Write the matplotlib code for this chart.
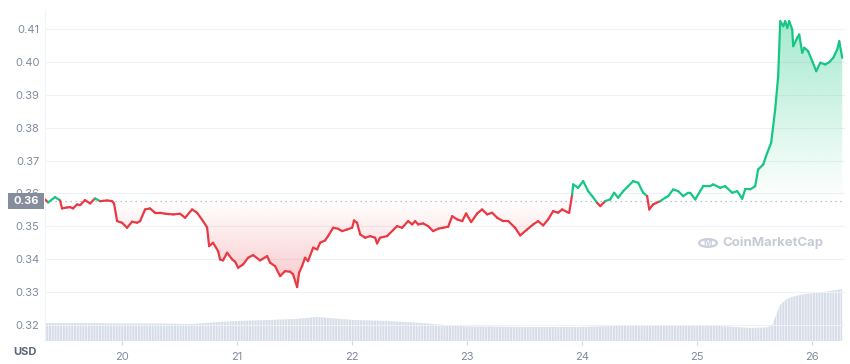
import numpy as np
import matplotlib
matplotlib.use("Agg")
import matplotlib.pyplot as plt
from matplotlib.collections import LineCollection
from matplotlib.path import Path
from matplotlib.patches import Rectangle, Circle
import matplotlib.transforms as mtransforms

plt.rcParams['font.family'] = ['Inter', 'DejaVu Sans']
plt.rcParams['hatch.linewidth'] = 0.6

# ---------------- data ----------------
days = [19.330, 19.357, 19.417, 19.461, 19.478, 19.522, 19.548, 19.574, 19.609, 19.635,
        19.678, 19.722, 19.765, 19.809, 19.870, 19.913, 19.930, 19.957, 20.000, 20.043,
        20.087, 20.130, 20.157, 20.200, 20.243, 20.287, 20.330, 20.374, 20.443, 20.504,
        20.548, 20.609, 20.652, 20.704, 20.739, 20.757, 20.791, 20.835, 20.852, 20.878,
        20.913, 20.957, 20.983, 21.009, 21.052, 21.096, 21.139, 21.200, 21.261, 21.287,
        21.330, 21.374, 21.417, 21.461, 21.487, 21.522, 21.539, 21.565, 21.591, 21.617,
        21.661, 21.696, 21.722, 21.765, 21.791, 21.835, 21.878, 21.913, 21.957, 22.000,
        22.017, 22.043, 22.070, 22.113, 22.157, 22.200, 22.217, 22.243, 22.304, 22.391,
        22.435, 22.487, 22.522, 22.548, 22.574, 22.617, 22.661, 22.704, 22.748, 22.791,
        22.835, 22.870, 22.913, 22.957, 22.991, 23.035, 23.087, 23.130, 23.174, 23.217,
        23.261, 23.313, 23.357, 23.417, 23.461, 23.522, 23.574, 23.617, 23.661, 23.704,
        23.748, 23.791, 23.826, 23.870, 23.887, 23.913, 23.922, 23.965, 24.009, 24.052,
        24.087, 24.130, 24.157, 24.200, 24.243, 24.278, 24.313, 24.357, 24.400, 24.443,
        24.487, 24.530, 24.565, 24.583, 24.617, 24.678, 24.722, 24.748, 24.791, 24.835,
        24.878, 24.922, 24.939, 24.983, 25.026, 25.052, 25.113, 25.139, 25.200, 25.243,
        25.304, 25.348, 25.391, 25.417, 25.461, 25.504, 25.530, 25.574, 25.609, 25.643,
        25.678, 25.704, 25.722, 25.748, 25.765, 25.783, 25.800, 25.826, 25.835, 25.870,
        25.887, 25.913, 25.930, 25.965, 26.000, 26.035, 26.070, 26.113, 26.148, 26.183,
        26.217, 26.235, 26.261]
prices = [0.35818, 0.35726, 0.35888, 0.35787, 0.35544, 0.35574, 0.35584, 0.35544, 0.35666, 0.35644,
          0.35796, 0.35696, 0.35848, 0.35766, 0.35787, 0.35766, 0.35696, 0.35158, 0.35109, 0.34957,
          0.35140, 0.35109, 0.35158, 0.35514, 0.35544, 0.35413, 0.35413, 0.35383, 0.35362, 0.35383,
          0.35261, 0.35514, 0.35413, 0.35158, 0.34967, 0.34398, 0.34502, 0.34246, 0.33994, 0.33964,
          0.34198, 0.33994, 0.33924, 0.33742, 0.33842, 0.34046, 0.34125, 0.33964, 0.34094, 0.33894,
          0.33790, 0.33486, 0.33638, 0.33620, 0.33538, 0.33152, 0.33590, 0.33790, 0.34046, 0.33942,
          0.34350, 0.34298, 0.34502, 0.34571, 0.34702, 0.34957, 0.34927, 0.34854, 0.34906, 0.34957,
          0.35179, 0.35109, 0.34754, 0.34653, 0.34702, 0.34653, 0.34480, 0.34653, 0.34702, 0.35006,
          0.34957, 0.35158, 0.35058, 0.35158, 0.35058, 0.35088, 0.35006, 0.34854, 0.34927, 0.34957,
          0.34988, 0.35310, 0.35210, 0.35158, 0.35392, 0.35128, 0.35392, 0.35514, 0.35362, 0.35413,
          0.35261, 0.35158, 0.35158, 0.34957, 0.34723, 0.34906, 0.35058, 0.35158, 0.35027, 0.35210,
          0.35462, 0.35413, 0.35514, 0.35432, 0.35413, 0.35970, 0.36274, 0.36173, 0.36374, 0.36070,
          0.35918, 0.35717, 0.35614, 0.35766, 0.35818, 0.36021, 0.35869, 0.36070, 0.36222, 0.36374,
          0.36325, 0.36021, 0.35918, 0.35514, 0.35666, 0.35766, 0.35869, 0.35918, 0.36122, 0.36070,
          0.35918, 0.36021, 0.36021, 0.35818, 0.36070, 0.36222, 0.36222, 0.36274, 0.36173, 0.36222,
          0.36021, 0.36070, 0.35839, 0.36122, 0.36122, 0.36222, 0.36729, 0.36881, 0.37237, 0.37541,
          0.38553, 0.39565, 0.41237, 0.41085, 0.41237, 0.41036, 0.41237, 0.40985, 0.40477, 0.40733,
          0.40833, 0.40277, 0.40429, 0.40325, 0.40021, 0.39717, 0.39976, 0.39921, 0.39991, 0.40125,
          0.40377, 0.40629, 0.40125]
ref_price = 0.3578          # opening price (dotted reference line)
ref_label = "0.36"

vol_days = [19.33, 19.6, 20.0, 20.3, 20.6, 20.85, 21.0, 21.3, 21.5, 21.7, 21.8, 22.0, 22.3,
            22.6, 22.8, 23.0, 23.5, 24.0, 24.3, 24.6, 24.9, 25.2, 25.45, 25.6, 25.65,
            25.72, 25.78, 25.85, 25.95, 26.1, 26.26]
volumes = [36, 36, 35, 35, 34, 38, 40, 42, 44, 48, 46, 42, 40,
           36, 32, 29, 28, 28, 30, 32, 31, 30, 26, 27, 30,
           72, 84, 90, 94, 98, 104]   # est. volume units

day_ticks = [20, 21, 22, 23, 24, 25, 26]
price_ticks = [0.32, 0.33, 0.34, 0.35, 0.36, 0.37, 0.38, 0.39, 0.40, 0.41]

GREEN = '#16c784'
RED = '#ea3943'
GRID = '#eff2f5'
TXT = '#808a9d'

x = np.array(days)
y = np.array(prices)

fig = plt.figure(figsize=(8.5, 3.64), dpi=100)
ax_v = fig.add_axes([45/850, 1-341/364, 800/850, 331/364])
ax = fig.add_axes([45/850, 1-341/364, 800/850, 331/364], sharex=ax_v)
ax.patch.set_visible(False)

xlim = (19.33, 26.285)
ylim = (0.32 - 16/3290, 0.41 + 19/3290)

# ---- volume (striped area) ----
ax_v.fill_between(vol_days, 0, volumes, facecolor='#d6dce8', edgecolor='#f4f6fa',
                  hatch='||||||', linewidth=0)
ax_v.set_ylim(0, max(volumes) * 331 / 52)
ax_v.axis('off')

# ---- grid ----
for p in price_ticks:
    ax.axhline(p, color=GRID, lw=0.8, zorder=0)

# ---- gradient fills ----
def grad_fill(where, y0, y1, color, a_low, a_high):
    poly = ax.fill_between(x, y, ref_price, where=where, interpolate=True,
                           facecolor='none', edgecolor='none')
    paths = poly.get_paths()
    if not paths:
        return
    cp = Path.make_compound_path(*paths)
    rgb = matplotlib.colors.to_rgb(color)
    n = 256
    arr = np.zeros((n, 1, 4))
    arr[..., 0], arr[..., 1], arr[..., 2] = rgb
    arr[:, 0, 3] = np.linspace(a_low, a_high, n)
    im = ax.imshow(arr, extent=[xlim[0], xlim[1], y0, y1], origin='lower',
                   aspect='auto', zorder=1, interpolation='bilinear')
    im.set_clip_path(cp, ax.transData)

grad_fill(y >= ref_price, ref_price, y.max(), GREEN, 0.0, 0.38)
grad_fill(y <= ref_price, y.min(), ref_price, RED, 0.28, 0.0)

# ---- reference dotted line ----
ax.axhline(ref_price, color='#a9b0bd', lw=0.9, ls=(0, (1, 3)), zorder=2)

# ---- price line coloured by side of reference ----
pts = np.column_stack([x, y]).reshape(-1, 1, 2)
segs = np.concatenate([pts[:-1], pts[1:]], axis=1)
mid = (y[:-1] + y[1:]) / 2
cols = [GREEN if m >= ref_price else RED for m in mid]
lc = LineCollection(segs, colors=cols, linewidths=1.6, capstyle='round',
                    joinstyle='round', zorder=3)
ax.add_collection(lc)

ax.set_xlim(*xlim)
ax.set_ylim(*ylim)
ax.set_yticks(price_ticks)
ax.set_yticklabels([f"{p:.2f}" for p in price_ticks])
ax.set_xticks(day_ticks)
ax.set_xticklabels([str(d) for d in day_ticks])
ax.tick_params(axis='y', length=0, pad=4, labelsize=8, labelcolor=TXT)
ax.tick_params(axis='x', length=3, width=0.8, color='#cfd6e4', pad=5,
               labelsize=8, labelcolor=TXT)
for s in ['top', 'right', 'bottom']:
    ax.spines[s].set_visible(False)
ax.spines['left'].set_color('#f1f3f6')
ax.spines['left'].set_linewidth(0.8)

# ---- reference label box ----
bt = mtransforms.blended_transform_factory(fig.transFigure, ax.transData)
h = 16 / 3290
ax.add_patch(Rectangle((8/850, ref_price - h/2), 36/850, h, transform=bt,
                       facecolor='#858c9c', edgecolor='none', clip_on=False, zorder=5))
ax.text(26/850, ref_price, ref_label, transform=bt, ha='center', va='center',
        color='white', fontsize=8, fontweight='bold', zorder=6, clip_on=False)

# ---- USD label ----
fig.text(25/850, 1-352/364, "USD", ha='center', va='center', fontsize=8,
         fontweight='bold', color='#58667e')

# ---- watermark ----
fig.patches.append(Circle((708/850, 1-243/364), 0.0105, transform=fig.transFigure,
                          facecolor='none', edgecolor='#c9ced8', lw=1.6))
fig.text(708/850, 1-243/364, "M", ha='center', va='center', fontsize=6.5,
         fontweight='bold', color='#c9ced8')
fig.text(722/850, 1-243/364, "CoinMarketCap", ha='left', va='center', fontsize=9.5,
         fontweight='bold', color='#c6cbd5')

fig.savefig("out.png", dpi=100)
